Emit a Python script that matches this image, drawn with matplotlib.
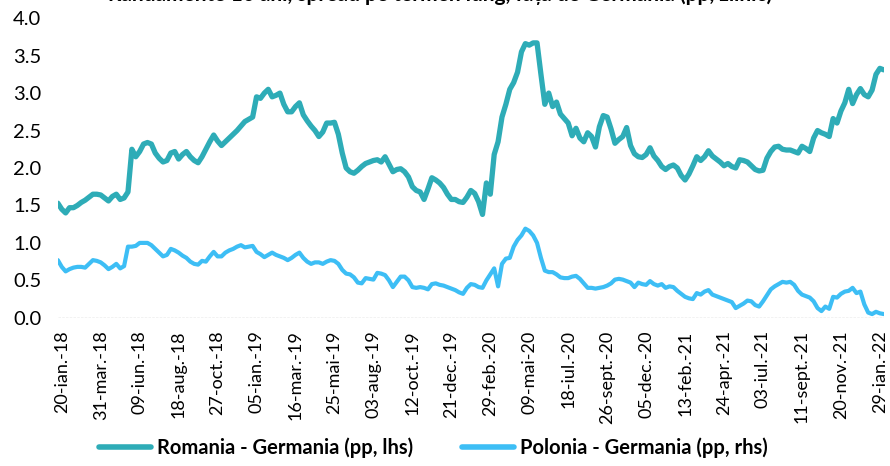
import numpy as np
import matplotlib
matplotlib.use("Agg")
import matplotlib.pyplot as plt
import pandas as pd

plt.rcParams['font.family'] = ['Lato', 'DejaVu Sans']

# weekly readings, Jan 2018 - Feb 2022
dates = pd.date_range('2018-01-13', periods=213, freq='7D')

romania = [
    1.53, 1.45, 1.40, 1.47, 1.47, 1.50, 1.54, 1.57, 1.61, 1.65,
    1.65, 1.64, 1.60, 1.56, 1.62, 1.65, 1.58, 1.60, 1.68, 2.25,
    2.15, 2.22, 2.32, 2.34, 2.32, 2.20, 2.13, 2.08, 2.10, 2.20,
    2.22, 2.12, 2.18, 2.22, 2.15, 2.10, 2.07, 2.15, 2.25, 2.35,
    2.44, 2.36, 2.30, 2.35, 2.40, 2.45, 2.50, 2.56, 2.62, 2.65,
    2.68, 2.95, 2.93, 3.00, 3.05, 2.95, 2.97, 3.00, 2.85, 2.75,
    2.75, 2.82, 2.87, 2.71, 2.63, 2.56, 2.50, 2.42, 2.48, 2.60,
    2.60, 2.61, 2.45, 2.20, 2.00, 1.95, 1.93, 1.97, 2.02, 2.06,
    2.08, 2.10, 2.11, 2.08, 2.15, 2.05, 1.95, 1.98, 1.99, 1.95,
    1.88, 1.75, 1.70, 1.68, 1.58, 1.72, 1.87, 1.84, 1.80, 1.74,
    1.65, 1.58, 1.58, 1.55, 1.54, 1.61, 1.70, 1.66, 1.55, 1.38,
    1.80, 1.65, 2.18, 2.35, 2.68, 2.85, 3.05, 3.14, 3.28, 3.55,
    3.66, 3.64, 3.67, 3.67, 3.25, 2.85, 3.00, 2.82, 2.88, 2.72,
    2.66, 2.60, 2.43, 2.53, 2.40, 2.35, 2.47, 2.42, 2.28, 2.55,
    2.70, 2.68, 2.52, 2.33, 2.38, 2.42, 2.54, 2.30, 2.19, 2.15,
    2.14, 2.18, 2.27, 2.16, 2.10, 2.02, 1.98, 2.02, 2.04, 2.00,
    1.90, 1.84, 1.92, 2.03, 2.15, 2.10, 2.15, 2.23, 2.16, 2.12,
    2.08, 2.03, 2.06, 2.02, 2.00, 2.11, 2.10, 2.08, 2.03, 1.98,
    1.96, 1.97, 2.13, 2.22, 2.28, 2.29, 2.25, 2.24, 2.24, 2.22,
    2.20, 2.29, 2.26, 2.22, 2.40, 2.50, 2.47, 2.45, 2.42, 2.66,
    2.60, 2.76, 2.87, 3.05, 2.86, 2.98, 3.06, 2.98, 2.95, 3.04,
    3.25, 3.33, 3.31,
]

polonia = [
    0.77, 0.68, 0.62, 0.65, 0.67, 0.68, 0.68, 0.67, 0.72, 0.77,
    0.76, 0.74, 0.70, 0.65, 0.68, 0.72, 0.66, 0.69, 0.95, 0.95,
    0.96, 1.00, 1.00, 1.00, 0.97, 0.92, 0.87, 0.82, 0.84, 0.92,
    0.90, 0.87, 0.83, 0.80, 0.75, 0.72, 0.71, 0.76, 0.75, 0.82,
    0.88, 0.82, 0.82, 0.87, 0.90, 0.92, 0.95, 0.97, 0.94, 0.95,
    0.96, 0.88, 0.85, 0.81, 0.84, 0.87, 0.84, 0.82, 0.80, 0.77,
    0.80, 0.84, 0.87, 0.80, 0.75, 0.72, 0.74, 0.74, 0.72, 0.75,
    0.77, 0.76, 0.72, 0.64, 0.59, 0.58, 0.54, 0.47, 0.46, 0.53,
    0.52, 0.51, 0.60, 0.59, 0.57, 0.50, 0.41, 0.48, 0.55, 0.55,
    0.50, 0.41, 0.40, 0.41, 0.40, 0.38, 0.45, 0.46, 0.44, 0.43,
    0.41, 0.39, 0.37, 0.34, 0.32, 0.40, 0.45, 0.44, 0.41, 0.40,
    0.50, 0.58, 0.66, 0.42, 0.72, 0.79, 0.80, 0.95, 1.04, 1.10,
    1.19, 1.16, 1.10, 1.00, 0.80, 0.63, 0.61, 0.61, 0.58, 0.54,
    0.53, 0.53, 0.55, 0.56, 0.52, 0.46, 0.40, 0.40, 0.39, 0.40,
    0.41, 0.43, 0.46, 0.51, 0.52, 0.51, 0.49, 0.47, 0.41, 0.47,
    0.45, 0.44, 0.49, 0.45, 0.43, 0.45, 0.40, 0.42, 0.41, 0.36,
    0.32, 0.28, 0.26, 0.25, 0.33, 0.31, 0.35, 0.37, 0.31, 0.29,
    0.27, 0.25, 0.23, 0.21, 0.13, 0.16, 0.19, 0.23, 0.22, 0.17,
    0.15, 0.22, 0.30, 0.38, 0.42, 0.45, 0.48, 0.47, 0.48, 0.44,
    0.36, 0.31, 0.29, 0.27, 0.22, 0.13, 0.09, 0.15, 0.12, 0.28,
    0.27, 0.32, 0.35, 0.36, 0.40, 0.33, 0.35, 0.18, 0.07, 0.05,
    0.08, 0.06, 0.05,
]

tick_dates = pd.date_range('2018-01-20', '2022-01-29', freq='70D')
month_ro = {1: 'ian.', 2: 'feb.', 3: 'mar.', 4: 'apr.', 5: 'mai', 6: 'iun.',
            7: 'iul.', 8: 'aug.', 9: 'sept.', 10: 'oct.', 11: 'nov.', 12: 'dec.'}
tick_labels = [f"{d.day:02d}-{month_ro[d.month]}-{d.strftime('%y')}" for d in tick_dates]

teal = '#2EACB7'
sky = '#3DBEF5'

fig = plt.figure(figsize=(8.9, 4.66), dpi=100)
ax = fig.add_axes([0.065, 0.318, 0.928, 0.643])

ax.plot(dates, romania, color=teal, lw=3.8, solid_capstyle='round',
        label='Romania - Germania (pp, lhs)', zorder=3)
ax.plot(dates, polonia, color=sky, lw=3.0, solid_capstyle='round',
        label='Polonia - Germania (pp, rhs)', zorder=3)

ax.set_ylim(0, 4)
ax.set_yticks(np.arange(0, 4.01, 0.5))
ax.set_yticklabels([f"{v:.1f}" for v in np.arange(0, 4.01, 0.5)])
ax.set_xlim(dates[0], dates[-1])
ax.set_xticks(tick_dates)
ax.set_xticklabels(tick_labels, rotation=90, ha='center', va='top')

for s in ax.spines.values():
    s.set_visible(False)
ax.axhline(0, color='#9a9a9a', lw=0.9, ls=(0, (2, 1)), zorder=1)
ax.tick_params(axis='both', length=0, colors='black')
ax.tick_params(axis='y', pad=12, labelsize=14.5)
ax.tick_params(axis='x', pad=9, labelsize=13)

# title sits mostly above the top edge, as in the source image
fig.text(0.494, 0.997, 'Randamente 10 ani, spread pe termen lung, față de Germania (pp, zilnic)',
         ha='center', va='baseline', fontsize=15, fontweight='bold')

leg = fig.legend(loc='center', bbox_to_anchor=(0.487, 0.04), ncol=2, frameon=False,
                 handlelength=2.6, columnspacing=2.4, handletextpad=0.3,
                 prop={'size': 14.5, 'weight': 'bold'})
for line in leg.get_lines():
    line.set_linewidth(4)

fig.savefig('out.png', dpi=100)
